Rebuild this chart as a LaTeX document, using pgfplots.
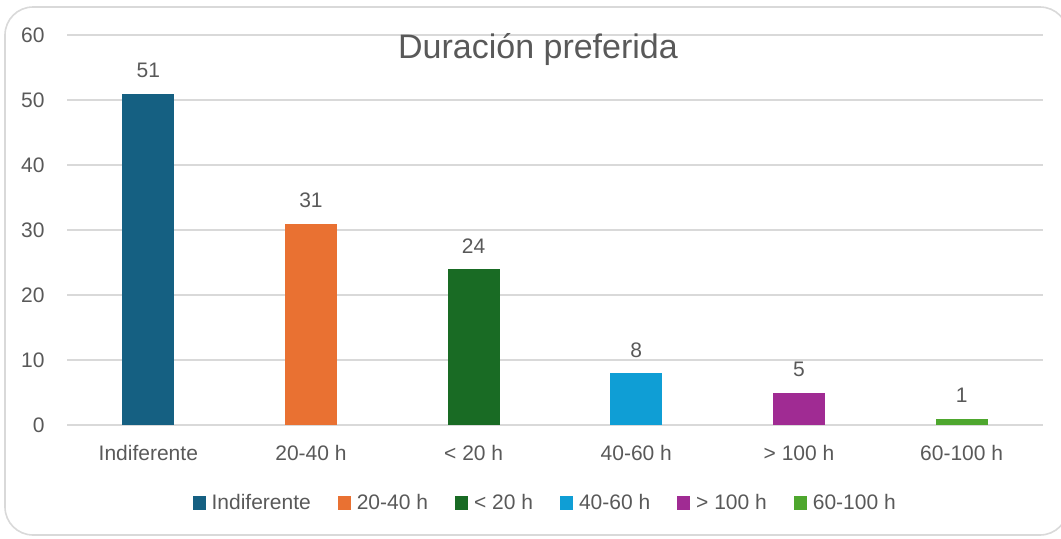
\documentclass[border=0pt]{standalone}
\usepackage{fontspec}
\setmainfont{Liberation Sans}
\usepackage{pgfplots}
\pgfplotsset{compat=1.18}
\definecolor{cIndif}{HTML}{156082}
\definecolor{cOrange}{HTML}{E97132}
\definecolor{cDkGreen}{HTML}{196B24}
\definecolor{cLtBlue}{HTML}{0F9ED5}
\definecolor{cPurple}{HTML}{A02B93}
\definecolor{cGreen}{HTML}{4EA72E}
\definecolor{txt}{HTML}{595959}
\definecolor{gridc}{HTML}{D9D9D9}
\pgfplotsset{sqlegend/.style={legend image code/.code={\fill[##1] (0pt,-3.3pt) rectangle (6.5pt,3.3pt);}}}
\begin{document}
\begin{tikzpicture}
\path[use as bounding box] (0,0) rectangle (530.5pt,269pt);
\draw[gridc,line width=0.8pt,rounded corners=14pt] (2.5pt,1.5pt) rectangle (534pt,265.5pt);
\begin{axis}[
  at={(33.5pt,56.5pt)},anchor=south west,
  scale only axis,width=488pt,height=195pt,
  ybar,bar width=26pt,bar shift=0pt,
  every axis plot post/.append style={sqlegend},
  xmin=-0.5,xmax=5.5,ymin=0,ymax=60,
  xtick={0,1,2,3,4,5},
  xticklabels={Indiferente,20-40 h,< 20 h,40-60 h,> 100 h,60-100 h},
  ytick={0,10,20,30,40,50,60},
  major tick length=0pt,
  axis line style={draw=none},
  ymajorgrids,xmajorgrids=false,grid style={draw=gridc,line width=0.8pt},
  /pgf/number format/assume math mode=true,
  tick label style={font=\fontsize{10.5}{12}\selectfont,text=txt},
  yticklabel style={inner sep=0pt,xshift=-11pt},
  xticklabel style={inner sep=0pt,anchor=base,yshift=-17.5pt},
  nodes near coords,
  every node near coord/.append style={font=\fontsize{10.5}{12}\selectfont,text=txt,anchor=base,inner sep=0pt,yshift=8pt},
  legend columns=6,
  legend style={draw=none,fill=none,at={(0.492,-0.2)},anchor=center,
    font=\fontsize{10.5}{12}\selectfont,text=txt,
    nodes={inner ysep=1.5pt,inner xsep=3pt},
    /tikz/every even column/.append style={column sep=10.5pt}},
  clip=false
]
\addplot[fill=cIndif,draw=none] coordinates {(0,51)};
\addlegendentry{Indiferente}
\addplot[fill=cOrange,draw=none] coordinates {(1,31)};
\addlegendentry{20-40 h}
\addplot[fill=cDkGreen,draw=none] coordinates {(2,24)};
\addlegendentry{< 20 h}
\addplot[fill=cLtBlue,draw=none] coordinates {(3,8)};
\addlegendentry{40-60 h}
\addplot[fill=cPurple,draw=none] coordinates {(4,5)};
\addlegendentry{> 100 h}
\addplot[fill=cGreen,draw=none] coordinates {(5,1)};
\addlegendentry{60-100 h}
\node[anchor=base,text=txt,font=\fontsize{17}{20}\selectfont,inner sep=0pt] at (rel axis cs:0.4826,0.9385) {Duración preferida};
\end{axis}
\end{tikzpicture}
\end{document}
